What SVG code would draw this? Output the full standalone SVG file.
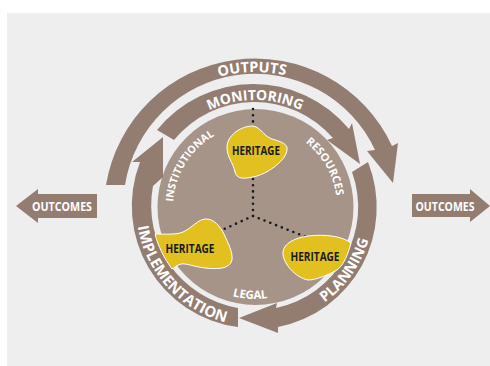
<svg xmlns="http://www.w3.org/2000/svg" width="490" height="366" viewBox="0 0 490 366">
<style>
.band{fill:#937d71}
.blob{fill:#e1c020;stroke:#fff;stroke-width:1}
.dots{fill:none;stroke:#1a1a1a;stroke-width:2.600;stroke-linecap:round;stroke-dasharray:0 6.200}
.arc{font-family:"Open Sans","Liberation Sans",sans-serif;font-weight:700;fill:#fff;text-anchor:middle}
.lab{font-family:"Open Sans","Liberation Sans",sans-serif;font-weight:700;text-anchor:middle;fill:#1a1a1a}
</style>
<defs>
<path id="pOut" d="M120 207A135 135 0 0 1 390 207"/>
<path id="pMon" d="M148 207A107 107 0 0 1 362 207"/>
<path id="pRes" d="M255 125A82 82 0 0 1 326 248"/>
<path id="pIns" d="M182.600 245.500A82 82 0 0 1 257.900 125.100"/>
<path id="pLeg" d="M163 207A92 92 0 0 0 347 207"/>
<path id="pImp" d="M160 135.400A119 119 0 0 0 319.800 306.800"/>
<path id="pPla" d="M205 314A118 118 0 0 0 338.400 123.600"/>
</defs>
<rect width="490" height="366" fill="#fff"/>
<rect x="7" y="13" width="483" height="353" fill="#eee"/>
<g id="disc"><circle cx="255.500" cy="207" r="98" fill="#a69489"/></g>
<g id="connectors">
<path class="dots" d="M253 109V126"/>
<path class="dots" d="M253 179V216"/>
<path class="dots" d="M253 216L222 230"/>
<path class="dots" d="M253 216L306 237"/>
</g>
<g id="outputs">
<path class="band" d="M106 185A151 151 0 0 1 392 146L398 143L393 183L367 151L375 150A132 132 0 0 0 125 185Z"/>
<text class="arc" font-size="14.500"><textPath href="#pOut" startOffset="49.300%">OUTPUTS</textPath></text>
</g>
<g id="monitoring">
<path class="band" d="M157 130A124 124 0 0 1 349 129L352 123L360 164L327 140L333 138A104 104 0 0 0 174 140Z"/>
<text class="arc" font-size="14"><textPath href="#pMon" startOffset="50%">MONITORING</textPath></text>
</g>
<g id="planning">
<path class="band" d="M368 162A122 122 0 0 1 278 327L278 333L239 318L277 303L276 308A103 103 0 0 0 352 172Z"/>
<text class="arc" font-size="14.500"><textPath href="#pPla" startOffset="50%">PLANNING</textPath></text>
</g>
<g id="implementation">
<path class="band" d="M238 327A122 122 0 0 1 140 162L132 162L163 137L163 177L153 186A104 104 0 0 0 238 308Z"/>
<text class="arc" font-size="15"><textPath href="#pImp" startOffset="49.700%">IMPLEMENTATION</textPath></text>
</g>
<g id="institutional"><text class="arc" font-size="10.500"><textPath href="#pIns" startOffset="50%">INSTITUTIONAL</textPath></text></g>
<g id="resources"><text class="arc" font-size="11"><textPath href="#pRes" startOffset="50%">RESOURCES</textPath></text></g>
<g id="legal"><text class="arc" font-size="11.500"><textPath href="#pLeg" startOffset="48.300%">LEGAL</textPath></text></g>
<g id="heritage-top">
<path class="blob" d="M227 147C227 136 240 126 253 126C262 128 262 135 272 139C282 142 288 144 287 150C286 160 270 172 257 176C245 179 237 180 235 172C233 162 227 158 227 147Z"/>
<text class="lab" x="256" y="155" font-size="12" textLength="48" lengthAdjust="spacingAndGlyphs">HERITAGE</text>
</g>
<g id="heritage-left">
<path class="blob" d="M155 234C165 234 176 235 183 232C192 228 198 219 206 219C214 219 220 226 224 234C228 243 233 252 232 260C230 270 215 269 205 268C195 267 186 263 181 264C177 265 174 268 172 269C164 258 158 246 155 234Z"/>
<text class="lab" x="190" y="252.500" font-size="12" textLength="49" lengthAdjust="spacingAndGlyphs">HERITAGE</text>
</g>
<g id="heritage-right">
<path class="blob" d="M283 252C284 243 295 238 308 236C325 234 342 236 351 243C348 254 344 265 337 270C328 275 316 280 308 280C296 278 282 263 283 252Z"/>
<text class="lab" x="315" y="260.500" font-size="12" textLength="49" lengthAdjust="spacingAndGlyphs">HERITAGE</text>
</g>
<g id="outcomes-left">
<path class="band" d="M16 206L38 189V194H97V218H38V223Z"/>
<text class="arc" x="62" y="211" font-size="12.500" textLength="60" lengthAdjust="spacingAndGlyphs">OUTCOMES</text>
</g>
<g id="outcomes-right">
<path class="band" d="M412 194H470V189L490 206L470 222V217H412Z"/>
<text class="arc" x="445" y="211" font-size="12.500" textLength="59" lengthAdjust="spacingAndGlyphs">OUTCOMES</text>
</g>
</svg>
